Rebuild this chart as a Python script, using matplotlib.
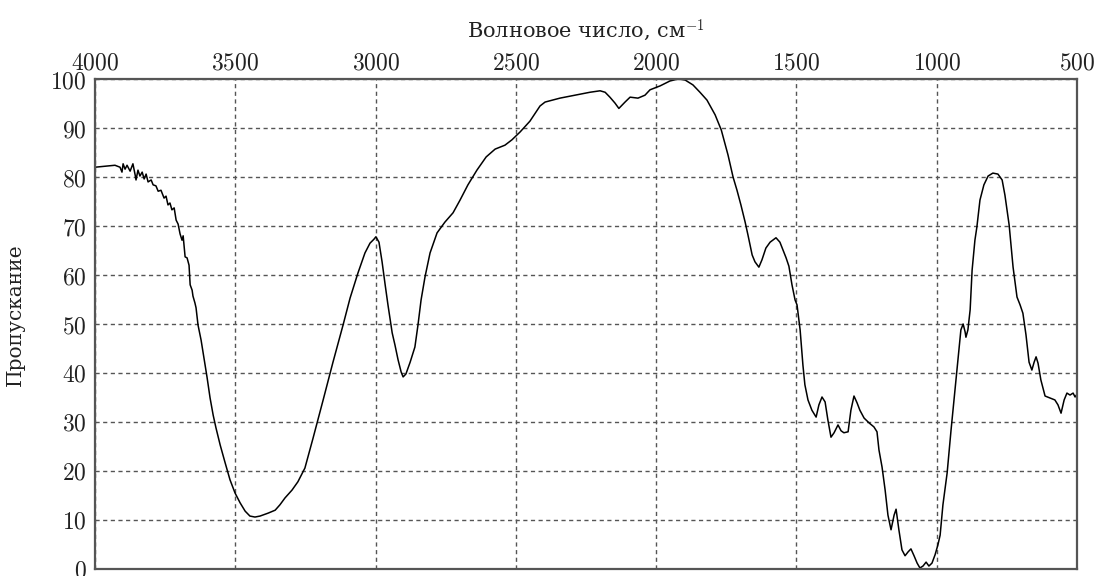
import matplotlib
matplotlib.use('Agg')
import matplotlib.pyplot as plt
from matplotlib.ticker import FuncFormatter

plt.rcParams['mathtext.fontset'] = 'cm'
plt.rcParams['font.family'] = 'DejaVu Serif'

# IR spectrum: wavenumber (cm^-1) and transmittance (%)
wavenumber = [
    4000, 3947, 3929, 3911, 3904, 3900, 3893, 3886, 3875, 3865, 3857, 3854, 3847, 3840,
    3832, 3825, 3818, 3811, 3800, 3793, 3783, 3775, 3765, 3754, 3747, 3740, 3733, 3726,
    3718, 3711, 3704, 3697, 3690, 3686, 3679, 3672, 3665, 3661, 3654, 3651, 3644, 3640,
    3633, 3622, 3612, 3601, 3590, 3579, 3569, 3554, 3537, 3519, 3501, 3483, 3465, 3448,
    3430, 3412, 3383, 3358, 3341, 3323, 3298, 3277, 3252, 3223, 3187, 3152, 3116, 3091,
    3063, 3038, 3020, 3006, 2999, 2988, 2977, 2966, 2956, 2941, 2931, 2920, 2909, 2902,
    2892, 2877, 2860, 2849, 2838, 2824, 2806, 2781, 2753, 2724, 2699, 2671, 2639, 2606,
    2574, 2539, 2514, 2485, 2450, 2414, 2396, 2343, 2289, 2236, 2200, 2182, 2165, 2147,
    2133, 2111, 2093, 2065, 2040, 2022, 1986, 1951, 1922, 1897, 1869, 1844, 1819, 1790,
    1768, 1744, 1726, 1712, 1698, 1683, 1673, 1658, 1648, 1634, 1623, 1609, 1594, 1573,
    1559, 1548, 1537, 1527, 1516, 1505, 1498, 1487, 1477, 1470, 1459, 1445, 1430, 1420,
    1409, 1398, 1388, 1377, 1366, 1352, 1341, 1331, 1316, 1306, 1295, 1284, 1274, 1259,
    1241, 1224, 1213, 1206, 1195, 1184, 1174, 1163, 1152, 1145, 1135, 1124, 1113, 1102,
    1092, 1081, 1070, 1060, 1049, 1038, 1028, 1017, 1006, 996, 988, 978, 963, 949,
    935, 924, 914, 906, 899, 896, 889, 881, 874, 864, 857, 846, 832, 817,
    800, 782, 767, 757, 742, 728, 714, 703, 693, 682, 671, 661, 653, 646,
    639, 629, 614, 596, 579, 568, 557, 546, 536, 525, 514, 507, 500,
]
transmittance = [
    82.0, 82.3, 82.4, 82.0, 81.0, 82.7, 81.6, 82.4, 81.2, 82.7, 80.4, 79.4, 81.4, 80.2,
    81.0, 79.6, 80.6, 79.0, 79.4, 78.4, 78.2, 77.1, 77.3, 75.7, 76.1, 74.3, 74.7, 73.3,
    73.7, 71.2, 70.4, 68.4, 67.1, 68.0, 63.7, 63.5, 62.0, 58.0, 56.9, 55.7, 54.3, 53.3,
    49.8, 46.7, 43.1, 39.2, 34.9, 31.4, 28.8, 25.3, 21.8, 18.2, 15.5, 13.5, 11.8, 10.8,
    10.6, 10.8, 11.4, 12.0, 13.1, 14.5, 16.1, 17.8, 20.6, 26.7, 34.5, 42.2, 49.8, 55.3,
    60.4, 64.5, 66.5, 67.3, 67.8, 66.7, 62.7, 58.0, 53.9, 48.2, 45.7, 42.7, 40.2, 39.2,
    39.8, 42.2, 45.3, 49.8, 54.9, 59.6, 64.5, 68.6, 70.8, 72.7, 75.3, 78.4, 81.4, 84.1,
    85.7, 86.5, 87.6, 89.2, 91.4, 94.5, 95.3, 96.1, 96.7, 97.3, 97.6, 97.3, 96.3, 95.1,
    94.0, 95.3, 96.3, 96.1, 96.7, 97.8, 98.6, 99.6, 100.0, 99.8, 98.8, 97.3, 95.7, 92.7,
    89.6, 84.5, 80.0, 77.3, 74.3, 70.8, 68.2, 64.1, 62.7, 61.6, 63.1, 65.5, 66.7, 67.6,
    66.7, 65.1, 63.5, 61.8, 58.0, 54.9, 53.9, 48.8, 41.6, 37.6, 34.5, 32.4, 31.0, 33.5,
    35.1, 34.1, 30.4, 26.9, 27.8, 29.4, 28.2, 27.8, 28.0, 32.4, 35.3, 33.9, 32.4, 30.8,
    29.8, 29.0, 28.0, 24.3, 20.8, 16.1, 11.0, 8.0, 11.0, 12.2, 8.0, 3.9, 2.7, 3.5,
    4.1, 2.7, 1.2, 0.2, 0.6, 1.4, 0.6, 1.2, 2.9, 4.9, 6.9, 13.1, 19.6, 28.4,
    36.5, 42.7, 48.8, 50.0, 48.4, 47.3, 48.8, 52.9, 61.0, 67.1, 69.8, 75.3, 78.4, 80.2,
    80.8, 80.6, 79.4, 76.3, 70.2, 61.6, 55.5, 53.9, 52.2, 47.8, 42.2, 40.6, 42.2, 43.3,
    42.0, 38.6, 35.3, 34.9, 34.5, 33.5, 31.8, 34.5, 35.9, 35.5, 35.9, 35.1, 35.7,
]

x_ticks = [4000, 3500, 3000, 2500, 2000, 1500, 1000, 500]
y_ticks = [0, 10, 20, 30, 40, 50, 60, 70, 80, 90, 100]

fig = plt.figure(figsize=(10.95, 5.76), dpi=100)
ax = fig.add_axes([0.0868, 0.0122, 0.8968, 0.8506])

ax.plot(wavenumber, transmittance, color='black', linewidth=1.1)

ax.set_xlim(4000, 500)
ax.set_ylim(0, 100)
ax.set_xticks(x_ticks)
ax.set_yticks(y_ticks)
ax.xaxis.tick_top()
ax.xaxis.set_label_position('top')
fmt = FuncFormatter(lambda v, p: r'$%d$' % v)
ax.xaxis.set_major_formatter(fmt)
ax.yaxis.set_major_formatter(fmt)
ax.tick_params(axis='both', length=0, labelsize=17, colors='#222222')
ax.tick_params(axis='x', pad=3)
ax.tick_params(axis='y', pad=6)

ax.grid(True, color='#555555', linestyle=(0, (3, 2.5)), linewidth=1.0)
for s in ax.spines.values():
    s.set_color('#555555')
    s.set_linewidth(1.6)

ax.set_xlabel('Волновое число, см$^{-1}$', fontsize=15, labelpad=10.5, color='#222222')
ax.set_ylabel('Пропускание', fontsize=14.5, color='#222222')
ax.yaxis.set_label_coords(-0.071, 0.52)

fig.savefig('out.png', dpi=100)
